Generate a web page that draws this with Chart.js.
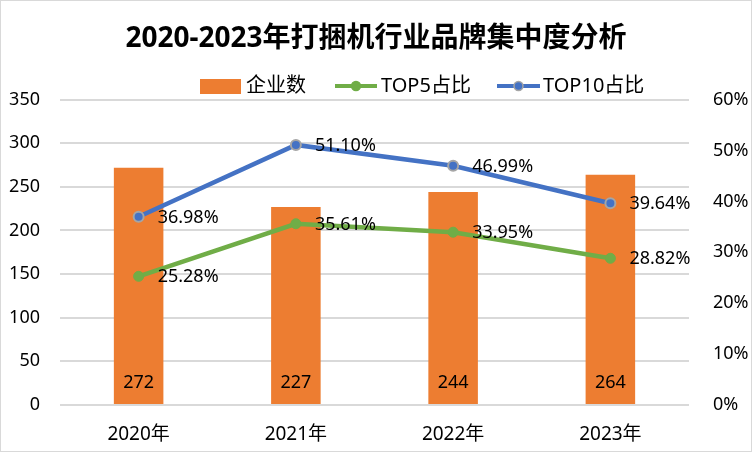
<!DOCTYPE html>
<html>
<head>
<meta charset="utf-8">
<script src="https://cdn.jsdelivr.net/npm/chart.js@4"></script>
<style>
  html, body { margin: 0; padding: 0; background: #fff; }
  #wrap { width: 750px; height: 450px; border: 1px solid #d9d9d9; }
</style>
</head>
<body>
<div id="wrap"><canvas id="myChart" width="750" height="450"></canvas></div>
<script>
// Datos
const years = ['2020年', '2021年', '2022年', '2023年'];
const empresas = [272, 227, 244, 264];
const top5 = [25.28, 35.61, 33.95, 28.82];
const top10 = [36.98, 51.10, 46.99, 39.64];
const leftTicks = [0, 50, 100, 150, 200, 250, 300, 350];
const rightTicks = [0, 10, 20, 30, 40, 50, 60];

const FONT = '"Noto Sans", "Noto Sans CJK SC", sans-serif';
const ORANGE = '#ED7D31';
const GREEN = '#70AD47';
const BLUE = '#4472C4';

// Etiquetas de datos y leyenda propia
const etiquetas = {
  id: 'etiquetas',
  afterDatasetsDraw(chart) {
    const ctx = chart.ctx;
    ctx.save();
    ctx.fillStyle = '#000';
    ctx.font = '18px ' + FONT;
    ctx.textBaseline = 'middle';
    // barras: valor abajo
    const barMeta = chart.getDatasetMeta(0);
    ctx.textAlign = 'center';
    barMeta.data.forEach((bar, i) => {
      ctx.fillText(empresas[i], bar.x, chart.scales.y.getPixelForValue(0) - 22);
    });
    // lineas: a la derecha del punto
    ctx.textAlign = 'left';
    [1, 2].forEach(d => {
      const meta = chart.getDatasetMeta(d);
      const vals = d === 1 ? top5 : top10;
      meta.data.forEach((pt, i) => {
        ctx.fillText(vals[i].toFixed(2) + '%', pt.x + 19, pt.y + 1);
      });
    });
    ctx.restore();
  },
  afterDraw(chart) {
    const ctx = chart.ctx;
    const y = 85;
    ctx.save();
    ctx.font = '20px ' + FONT;
    ctx.textBaseline = 'middle';
    ctx.textAlign = 'left';
    ctx.fillStyle = '#000';
    // 企业数
    ctx.fillStyle = ORANGE;
    ctx.fillRect(199, y - 7, 41, 15);
    ctx.fillStyle = '#000';
    ctx.fillText('企业数', 245, y);
    // TOP5
    const serie = (x0, x1, color, border) => {
      ctx.strokeStyle = color;
      ctx.lineWidth = 4;
      ctx.beginPath();
      ctx.moveTo(x0, y);
      ctx.lineTo(x1, y);
      ctx.stroke();
      ctx.beginPath();
      ctx.arc((x0 + x1) / 2, y, 4.5, 0, Math.PI * 2);
      ctx.fillStyle = color;
      ctx.fill();
      ctx.lineWidth = 1.5;
      ctx.strokeStyle = border;
      ctx.stroke();
    };
    serie(334, 376, GREEN, GREEN);
    ctx.fillStyle = '#000';
    ctx.fillText('TOP5占比', 380, y);
    serie(496, 539, BLUE, '#A5A5A5');
    ctx.fillStyle = '#000';
    ctx.fillText('TOP10占比', 542, y);
    ctx.restore();
  }
};

const ctx = document.getElementById('myChart');
new Chart(ctx, {
  type: 'bar',
  data: {
    labels: years,
    datasets: [
      {
        label: '企业数',
        data: empresas,
        backgroundColor: ORANGE,
        yAxisID: 'y',
        categoryPercentage: 1,
        barPercentage: 0.315,
        order: 2
      },
      {
        type: 'line',
        label: 'TOP5占比',
        data: top5,
        borderColor: GREEN,
        backgroundColor: GREEN,
        borderWidth: 4.5,
        pointRadius: 5,
        pointBorderWidth: 1,
        pointBorderColor: GREEN,
        pointBackgroundColor: GREEN,
        tension: 0,
        yAxisID: 'y1',
        order: 1
      },
      {
        type: 'line',
        label: 'TOP10占比',
        data: top10,
        borderColor: BLUE,
        backgroundColor: BLUE,
        borderWidth: 4.5,
        pointRadius: 5,
        pointBorderWidth: 2,
        pointBorderColor: '#A5A5A5',
        pointBackgroundColor: BLUE,
        tension: 0,
        yAxisID: 'y1',
        order: 0
      }
    ]
  },
  options: {
    responsive: false,
    animation: false,
    layout: { padding: { top: 0, left: 0, right: 0, bottom: 0 } },
    plugins: {
      legend: { display: false },
      tooltip: { enabled: false },
      title: {
        display: true,
        text: '2020-2023年打捆机行业品牌集中度分析',
        color: '#000',
        font: { family: FONT, size: 28, weight: 'bold' },
        padding: { top: 21, bottom: 44 }
      }
    },
    scales: {
      x: {
        grid: { display: false },
        border: { display: false },
        ticks: { color: '#000', font: { family: FONT, size: 19 }, padding: 10 },
        afterFit(scale) { scale.height = 46; }
      },
      y: {
        position: 'left',
        min: 0,
        max: 350,
        afterBuildTicks(scale) { scale.ticks = leftTicks.map(v => ({ value: v })); },
        grid: { color: '#D9D9D9', lineWidth: 2, drawTicks: false },
        border: { display: false },
        ticks: { color: '#000', font: { family: FONT, size: 18 }, padding: 20 },
        afterFit(scale) { scale.width = 59; }
      },
      y1: {
        position: 'right',
        min: 0,
        max: 60,
        afterBuildTicks(scale) { scale.ticks = rightTicks.map(v => ({ value: v })); },
        grid: { display: false },
        border: { display: false },
        ticks: {
          color: '#000',
          font: { family: FONT, size: 18 },
          padding: 16,
          callback: v => v + '%'
        },
        afterFit(scale) { scale.width = 62; }
      }
    }
  },
  plugins: [etiquetas]
});
</script>
</body>
</html>
